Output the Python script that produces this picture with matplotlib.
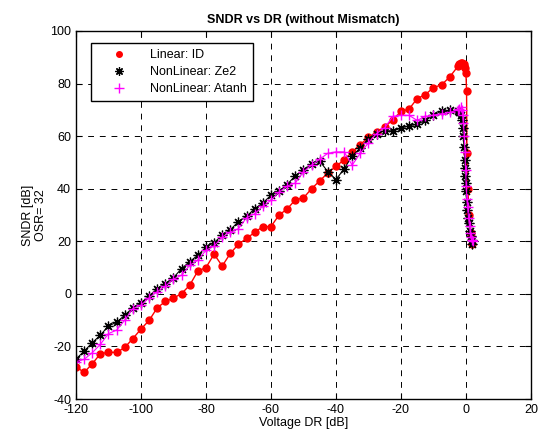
import numpy as np
import matplotlib
matplotlib.use("Agg")
import matplotlib.pyplot as plt
from matplotlib.lines import Line2D

plt.rcParams['font.family'] = ['Liberation Sans', 'DejaVu Sans']
plt.rcParams['axes.unicode_minus'] = False

# coarse sweep -120 .. -2.5 dB in 2.5 dB steps
x_coarse = list(np.arange(-120, -2.4, 2.5))

# Linear: ID  (coarse part stops at -5 dB)
lin_x = x_coarse[:-1] + [-2.5, -2.0, -1.5, -1.2, -1.0, -0.7, -0.5, -0.3, 0.0, 0.2, 0.3, 0.6, 1.0, 1.5, 2.0]
lin_y = [-27.7, -29.9, -26.6, -22.8, -22.2, -22.3, -20.4, -17.0, -13.4, -10.1,
         -5.3, -2.9, -1.6, 0.1, 3.3, 8.7, 10.0, 15.1, 10.6, 15.4,
         18.9, 21.1, 23.4, 25.6, 25.6, 30.0, 32.3, 35.8, 36.5, 40.0,
         43.0, 46.0, 48.5, 51.0, 54.0, 56.8, 59.5, 61.5, 63.5, 66.2,
         69.4, 70.3, 74.3, 75.8, 78.5, 79.5, 82.5,
         86.5, 87.5, 88.0, 87.8, 87.0, 86.5, 87.5, 86.0, 84.0, 77.0, 53.5, 40.0, 30.0, 23.0, 19.0]

# NonLinear: Ze2
ze2_x = x_coarse + [-2.0, -1.5, -1.2, -1.0, -0.8, -0.6, -0.4, -0.3, -0.2, -0.1, 0.0,
                    0.2, 0.4, 0.7, 1.0, 1.3, 1.6, 1.8, 2.0]
ze2_y = [-24.8, -21.8, -18.6, -15.7, -12.2, -10.8, -8.1, -5.3, -3.4, -0.8,
         2.0, 3.9, 6.2, 9.6, 12.3, 14.7, 17.8, 19.5, 22.3, 24.4,
         27.5, 29.5, 32.4, 34.6, 37.5, 39.0, 41.6, 45.0, 47.0, 49.5,
         50.5, 46.5, 43.5, 47.5, 52.5, 55.5, 59.0, 61.0, 62.0, 62.0,
         63.0, 64.0, 64.5, 66.0, 68.0, 69.5, 69.8, 69.6,
         69.0, 68.0, 66.0, 63.0, 60.0, 56.0, 51.0, 48.0, 45.0, 42.0, 39.0,
         35.0, 32.0, 29.0, 27.0, 24.0, 22.0, 20.5, 19.0]

# NonLinear: Atanh
atanh_x = x_coarse + [-2.0, -1.5, -1.2, -1.0, -0.8, -0.5, -0.3, -0.1, 0.1, 0.3,
                      0.5, 0.8, 1.1, 1.4, 1.7, 2.0, 2.2]
atanh_y = [-25.8, -24.9, -22.4, -19.2, -15.1, -13.8, -10.0, -5.6, -4.3, -1.5,
           0.8, 2.9, 5.6, 7.1, 10.9, 12.8, 16.6, 18.2, 21.6, 23.5,
           24.8, 29.0, 30.5, 33.3, 35.6, 38.7, 41.0, 42.2, 46.4, 49.0,
           51.2, 53.5, 54.0, 54.0, 49.0, 53.5, 57.5, 61.0, 63.2, 67.5,
           67.9, 67.9, 66.0, 67.5, 68.0, 68.5, 69.0, 70.0,
           70.5, 71.0, 70.0, 68.0, 65.0, 60.0, 54.0, 47.0, 41.0, 36.0,
           33.0, 29.0, 26.0, 23.0, 21.5, 20.5, 20.0]

fig = plt.figure(figsize=(5.39, 4.34), dpi=100)
ax = fig.add_axes([0.141, 0.0806, 0.844, 0.848])

star = (8, 2, 0)
ax.plot(lin_x, lin_y, color='#ff0000', marker='o', markersize=5, linewidth=1)
ax.plot(ze2_x, ze2_y, color='black', marker=star, markersize=7, markeredgewidth=0.9, linewidth=0.8)
ax.plot(atanh_x, atanh_y, color='#ff00ff', marker='+', markersize=7, linewidth=0.8)

ax.set_xlim(-120, 20)
ax.set_ylim(-40, 100)
ax.set_xticks(np.arange(-120, 21, 20))
ax.set_yticks(np.arange(-40, 101, 20))
ax.grid(True, color='black', linestyle=(0, (6, 6)), linewidth=0.7)
ax.tick_params(direction='in', top=True, right=True, labelsize=9, length=4)
for s in ax.spines.values():
    s.set_linewidth(1)

ax.set_title('SNDR vs DR (without Mismatch)', fontsize=9, fontweight='bold', pad=6)
ax.set_xlabel('Voltage DR [dB]', fontsize=9, labelpad=1)
ax.set_ylabel('SNDR [dB]\nOSR= 32', fontsize=9, labelpad=2)

handles = [Line2D([], [], color='#ff0000', marker='o', markersize=4, linestyle='none'),
           Line2D([], [], color='black', marker=star, markersize=6, markeredgewidth=0.9, linestyle='none'),
           Line2D([], [], color='#ff00ff', marker='+', markersize=7, linestyle='none')]
leg = ax.legend(handles, ['Linear: ID', 'NonLinear: Ze2', 'NonLinear: Atanh'],
                loc='upper left', bbox_to_anchor=(0.02, 0.985), fontsize=9,
                fancybox=False, edgecolor='black', framealpha=1,
                handlelength=3.4, borderpad=0.5, labelspacing=0.4)
leg.get_frame().set_linewidth(1)

fig.savefig('out.png', dpi=100)
